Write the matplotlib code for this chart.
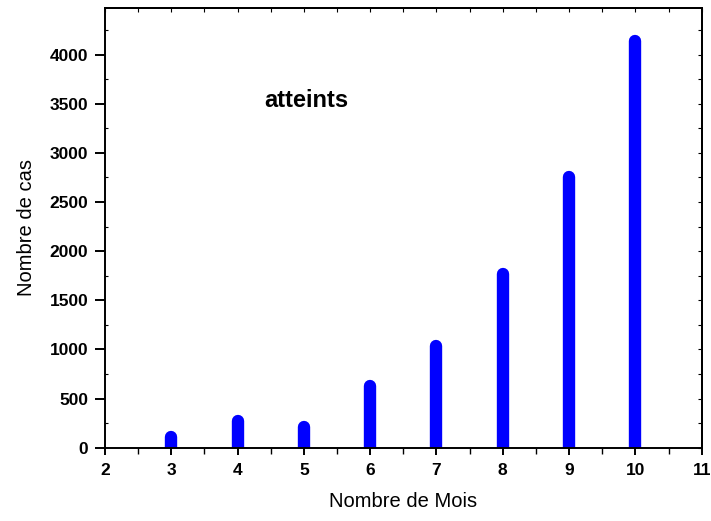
import matplotlib.pyplot as plt
from matplotlib.ticker import MultipleLocator

plt.rcParams['font.family'] = ['Liberation Sans', 'DejaVu Sans']

# mois et nombre de cas atteints
mois = [3, 4, 5, 6, 7, 8, 9, 10]
cas = [110, 270, 210, 630, 1040, 1765, 2755, 4140]

fig = plt.figure(figsize=(7.11, 5.21), dpi=100)
ax = fig.add_axes([0.1477, 0.1407, 0.8392, 0.8449])

ax.vlines(mois, 0, cas, colors='#0000ff', linewidth=8.9, capstyle='round')

ax.set_xlim(2, 11)
ax.set_ylim(0, 4480)
ax.xaxis.set_major_locator(MultipleLocator(1))
ax.xaxis.set_minor_locator(MultipleLocator(0.5))
ax.yaxis.set_major_locator(MultipleLocator(500))
ax.yaxis.set_minor_locator(MultipleLocator(250))

for s in ax.spines.values():
    s.set_linewidth(1.4)

ax.tick_params(axis='x', which='major', direction='out', length=5, width=1.4,
               labelsize=12.5, pad=6)
ax.tick_params(axis='x', which='minor', direction='out', length=4, width=1.0)
ax.tick_params(axis='y', which='major', direction='out', length=7, width=1.4,
               labelsize=12.5, pad=5)
ax.tick_params(axis='y', which='minor', direction='in', length=2.5, width=0.8)
for lab in ax.get_xticklabels() + ax.get_yticklabels():
    lab.set_fontweight('bold')

# ticks interieurs en haut et a droite
ax2 = ax.secondary_xaxis('top')
ax2.xaxis.set_major_locator(MultipleLocator(1))
ax2.xaxis.set_minor_locator(MultipleLocator(0.5))
ax2.tick_params(which='both', direction='in', length=3, width=0.8, labeltop=False)
ax3 = ax.secondary_yaxis('right')
ax3.yaxis.set_major_locator(MultipleLocator(500))
ax3.yaxis.set_minor_locator(MultipleLocator(250))
ax3.tick_params(which='both', direction='in', length=3, width=0.8, labelright=False)
ax2.spines['top'].set_linewidth(1.4)
ax3.spines['right'].set_linewidth(1.4)

ax.set_xlabel('Nombre de Mois', fontsize=14.5, labelpad=10)
ax.set_ylabel('Nombre de cas', fontsize=14.5, labelpad=10)

ax.text(5.04, 3530, 'atteints', fontsize=17, fontweight='bold', ha='center', va='center')

fig.savefig('out.png', dpi=100)
